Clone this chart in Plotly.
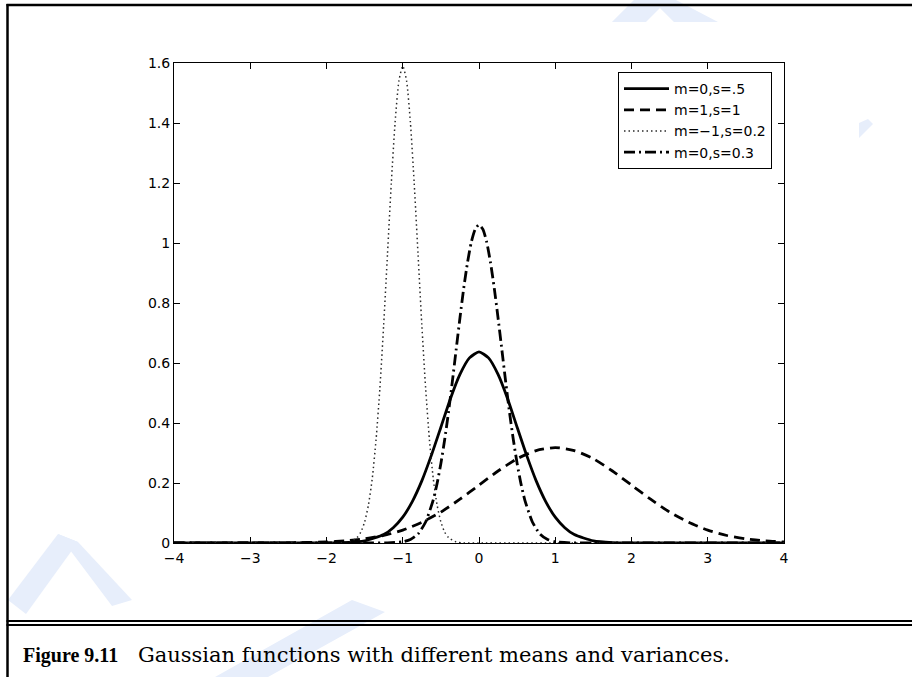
import plotly.graph_objects as go

# ---- data ----
labels = ["m=0,s=.5", "m=1,s=1", "m=\u22121,s=0.2", "m=0,s=0.3"]

x1 = [-4, -3, -2, -1.75, -1.5, -1.25, -1.125, -1, -0.875, -0.75, -0.625, -0.5, -0.375, -0.25, -0.125, 0,
      0.125, 0.25, 0.375, 0.5, 0.625, 0.75, 0.875, 1, 1.125, 1.25, 1.5, 1.75, 2, 3, 4]
y1 = [0, 0, 0.0002, 0.0014, 0.0071, 0.028, 0.051, 0.086, 0.138, 0.207, 0.292, 0.386, 0.481, 0.562, 0.617, 0.637,
      0.617, 0.562, 0.481, 0.386, 0.292, 0.207, 0.138, 0.086, 0.051, 0.028, 0.0071, 0.0014, 0.0002, 0, 0]

x2 = [-4, -3, -2.5, -2, -1.75, -1.5, -1.25, -1, -0.75, -0.5, -0.25, 0, 0.25, 0.5, 0.75, 1,
      1.25, 1.5, 1.75, 2, 2.25, 2.5, 2.75, 3, 3.25, 3.5, 3.75, 4]
y2 = [0, 0.0001, 0.0007, 0.0035, 0.0072, 0.014, 0.025, 0.043, 0.069, 0.103, 0.146, 0.193, 0.240, 0.281, 0.308, 0.318,
      0.308, 0.281, 0.240, 0.193, 0.146, 0.103, 0.069, 0.043, 0.025, 0.014, 0.0072, 0.0035]

x3 = [-4, -3, -2, -1.8, -1.7, -1.6, -1.55, -1.5, -1.45, -1.4, -1.35, -1.3, -1.25, -1.2, -1.15, -1.1, -1.05, -1,
      -0.95, -0.9, -0.85, -0.8, -0.75, -0.7, -0.65, -0.6, -0.55, -0.5, -0.45, -0.4, -0.3, -0.2, 0, 1, 2, 3, 4]
y3 = [0, 0, 0, 0.0005, 0.0035, 0.018, 0.036, 0.070, 0.127, 0.215, 0.344, 0.516, 0.728, 0.964, 1.200, 1.403, 1.541, 1.59,
      1.541, 1.403, 1.200, 0.964, 0.728, 0.516, 0.344, 0.215, 0.127, 0.070, 0.036, 0.018, 0.0035, 0.0005, 0, 0, 0, 0, 0]

x4 = [-4, -2, -1.5, -1.2, -1, -0.9, -0.8, -0.7, -0.6, -0.55, -0.5, -0.45, -0.4, -0.35, -0.3, -0.25, -0.2, -0.15, -0.1, -0.05, 0,
      0.05, 0.1, 0.15, 0.2, 0.25, 0.3, 0.35, 0.4, 0.45, 0.5, 0.55, 0.6, 0.7, 0.8, 0.9, 1, 1.2, 1.5, 2, 4]
y4 = [0, 0, 0, 0.0004, 0.004, 0.012, 0.030, 0.070, 0.144, 0.198, 0.265, 0.345, 0.436, 0.537, 0.644, 0.750, 0.850, 0.936, 1.004, 1.046, 1.061,
      1.046, 1.004, 0.936, 0.850, 0.750, 0.644, 0.537, 0.436, 0.345, 0.265, 0.198, 0.144, 0.070, 0.030, 0.012, 0.004, 0.0004, 0, 0, 0]

x_ticks = [-4, -3, -2, -1, 0, 1, 2, 3, 4]
y_ticks = [0, 0.2, 0.4, 0.6, 0.8, 1, 1.2, 1.4, 1.6]

caption_label = "Figure 9.11"
caption_text = "Gaussian functions with different means and variances."

# ---- layout geometry (pixels) ----
W, H = 912, 677
L, R, T, B = 174, 128, 63, 134
PW, PH = W - L - R, H - T - B


def px(x):
    return (x - L) / PW


def py(y):
    return (H - B - y) / PH


fig = go.Figure()
styles = [
    dict(color="black", width=2.8, dash="solid"),
    dict(color="black", width=2.8, dash="10px,6px"),
    dict(color="#2a2a2a", width=1.5, dash="1.5px,3px"),
    dict(color="black", width=2.8, dash="11px,4px,2px,4px"),
]
for i, (xs, ys) in enumerate([(x1, y1), (x2, y2), (x3, y3), (x4, y4)]):
    fig.add_trace(go.Scatter(x=xs, y=ys, mode="lines", name=labels[i],
                             line=dict(shape="spline", smoothing=0.6, **styles[i]),
                             legendgroup=f"g{i}", showlegend=True))

tick_font = dict(family="DejaVu Sans, Liberation Sans, Arial", size=14, color="black")
axis_common = dict(showline=True, linecolor="black", linewidth=1, mirror="ticks", ticks="inside",
                   ticklen=6, tickcolor="black", showgrid=False, zeroline=False, tickfont=tick_font)

wm = "#e7eefb"
shapes = []


def poly(points, color=wm):
    path = "M " + " L ".join(f"{px(a):.5f},{py(b):.5f}" for a, b in points) + " Z"
    return dict(type="path", xref="paper", yref="paper", path=path, fillcolor=color, line=dict(width=0), layer="below")


# faint watermark shapes
shapes.append(poly([(8, 600), (58, 534), (78, 542), (26, 614)]))
shapes.append(poly([(58, 534), (78, 542), (132, 600), (112, 606)]))
shapes.append(poly([(215, 677), (268, 677), (385, 612), (352, 600)]))
shapes.append(poly([(612, 22), (634, 0), (676, 0), (718, 22), (674, 22), (660, 8), (646, 22)]))
shapes.append(poly([(859, 123), (868, 119), (873, 124), (859, 138)]))


def hline(y, x0, x1, w):
    return dict(type="line", xref="paper", yref="paper", x0=px(x0), x1=px(x1), y0=py(y), y1=py(y),
                line=dict(color="black", width=w), layer="above")


def vline(x, y0, y1, w):
    return dict(type="line", xref="paper", yref="paper", x0=px(x), x1=px(x), y0=py(y0), y1=py(y1),
                line=dict(color="black", width=w), layer="above")


shapes.append(hline(5, 6.5, 912, 2.5))
shapes.append(vline(7.5, 4, 677, 2.5))
shapes.append(hline(621, 6.5, 912, 2))
shapes.append(hline(625, 6.5, 912, 2))

annotations = [
    dict(text=f"<b>{caption_label}</b>", xref="paper", yref="paper", x=px(21), y=py(655), xanchor="left", yanchor="middle",
         showarrow=False, font=dict(family="Liberation Serif, Times New Roman", size=20, color="black")),
    dict(text=caption_text, xref="paper", yref="paper", x=px(136), y=py(655), xanchor="left", yanchor="middle",
         showarrow=False, font=dict(family="DejaVu Serif, Liberation Serif", size=21, color="black")),
]

fig.update_layout(
    width=W, height=H,
    margin=dict(l=L, r=R, t=T, b=B),
    paper_bgcolor="white", plot_bgcolor="white",
    xaxis=dict(range=[-4, 4], tickvals=x_ticks, ticklabelstandoff=2, **axis_common),
    yaxis=dict(range=[0, 1.6], tickvals=y_ticks, **axis_common),
    legend=dict(x=px(772), y=py(72), xanchor="right", yanchor="top", bgcolor="white", bordercolor="black",
                borderwidth=1, font=dict(family="DejaVu Sans, Liberation Sans, Arial", size=14, color="black"),
                tracegroupgap=0, itemwidth=45),
    shapes=shapes,
    annotations=annotations,
    showlegend=True,
)

fig.write_html("out.html", config={"displayModeBar": False},
               post_script="document.body.style.margin='0';document.body.style.overflow='hidden';")
